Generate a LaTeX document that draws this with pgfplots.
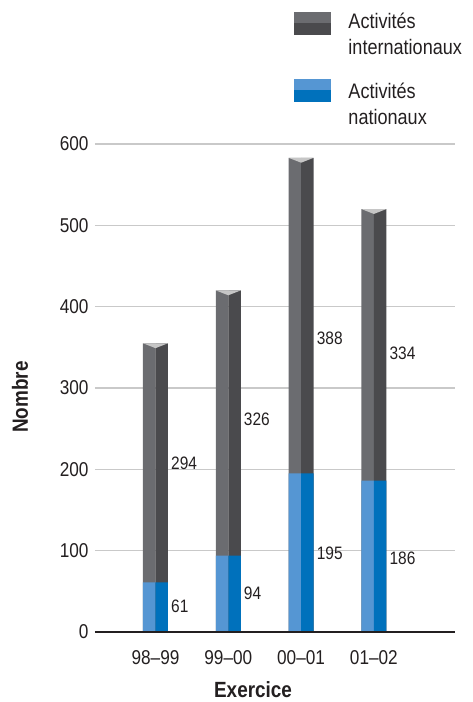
\documentclass[border=0pt]{standalone}
\usepackage{fontspec}
\setmainfont{Liberation Sans}[FakeStretch=0.86]
\usepackage{pgfplots}
\pgfplotsset{compat=1.18}
\definecolor{gL}{HTML}{6B6C70}
\definecolor{gR}{HTML}{4A4A4D}
\definecolor{bL}{HTML}{5596D3}
\definecolor{bR}{HTML}{0071BC}
\definecolor{capc}{HTML}{C6C6C6}
\definecolor{gridc}{HTML}{C9C9C9}
\definecolor{txt}{HTML}{231F20}
\begin{document}
\begin{tikzpicture}
\begin{axis}[name=ax, scale only axis, width=360pt, height=488pt,
  xmin=-0.831, xmax=4.114, ymin=0, ymax=600,
  ytick={100,200,...,600}, extra y ticks={0},
  extra y tick style={grid style={draw=none}},
  xtick={0,1,2,3}, xticklabels={98–99,99–00,00–01,01–02},
  major tick length=0pt,
  axis line style={draw=none},
  ymajorgrids, grid style={gridc, line width=1.2pt},
  tick label style={font=\fontsize{20}{24}\selectfont, text=txt},
  /pgf/number format/assume math mode=true,
  yticklabel style={xshift=-3pt},
  xticklabel style={yshift=-15pt},
  xlabel={Exercice}, ylabel={Nombre},
  label style={font=\fontsize{22}{26}\selectfont\bfseries, text=txt},
  xlabel style={at={(rel axis cs:0.439,0)}, anchor=center, yshift=-58pt},
  ylabel style={at={(rel axis cs:0,0.4816)}, anchor=center, yshift=75pt},
  clip=false,
  legend cell align=left,
  legend style={draw=none, fill=none, at={(rel axis cs:0.553,1.27)}, anchor=north west,
    inner sep=0pt, outer sep=0pt, row sep=23pt,
    font=\fontsize{21}{26}\selectfont,
    nodes={inner sep=0pt, align=left, text=txt}},
]
\addlegendimage{legend image code/.code={\fill[gL] (0pt,11pt) rectangle (36pt,22pt); \fill[gR] (0pt,0pt) rectangle (36pt,11pt); \path (54pt,0pt);}}
\addlegendentry{Activités\\internationaux}
\addlegendimage{legend image code/.code={\fill[bL] (0pt,14pt) rectangle (36pt,25pt); \fill[bR] (0pt,3pt) rectangle (36pt,14pt); \path (54pt,0pt);}}
\addlegendentry{Activités\\nationaux}

% totals (international + national), left and right halves
\addplot[ybar, bar width=12.5pt, bar shift=-6.25pt, fill=gL, draw=none, forget plot] coordinates {(0,355)(1,420)(2,583)(3,520)};
\addplot[ybar, bar width=12.5pt, bar shift=6.25pt, fill=gR, draw=none, forget plot] coordinates {(0,355)(1,420)(2,583)(3,520)};
% national
\addplot[ybar, bar width=12.5pt, bar shift=-6.25pt, fill=bL, draw=none, forget plot] coordinates {(0,61)(1,94)(2,195)(3,186)};
\addplot[ybar, bar width=12.5pt, bar shift=6.25pt, fill=bR, draw=none, forget plot] coordinates {(0,61)(1,94)(2,195)(3,186)};
% top caps
\addplot[fill=capc, draw=none, mark=none, forget plot] coordinates {(-0.1717,355)(0.1717,355)(0,349)} --cycle;
\addplot[fill=capc, draw=none, mark=none, forget plot] coordinates {(0.8283,420)(1.1717,420)(1,414)} --cycle;
\addplot[fill=capc, draw=none, mark=none, forget plot] coordinates {(1.8283,583)(2.1717,583)(2,577)} --cycle;
\addplot[fill=capc, draw=none, mark=none, forget plot] coordinates {(2.8283,520)(3.1717,520)(3,514)} --cycle;
% axis line
\addplot[txt, line width=2pt, mark=none, forget plot] coordinates {(-0.831,0)(4.114,0)};
% value labels
\addplot[draw=none, mark=none, forget plot, nodes near coords, point meta=explicit symbolic,
  nodes near coords style={anchor=west, font=\fontsize{18}{22}\selectfont, text=txt, inner sep=3pt}]
  coordinates {(0.1717,208)[294] (1.1717,262)[326] (2.1717,361)[388] (3.1717,343)[334]
               (0.1717,31)[61] (1.1717,47)[94] (2.1717,97)[195] (3.1717,90)[186]};
\end{axis}
\pgfresetboundingbox
\path (ax.south west) ++(-95pt,-70pt) rectangle ++(472pt,702pt);
\end{tikzpicture}
\end{document}
